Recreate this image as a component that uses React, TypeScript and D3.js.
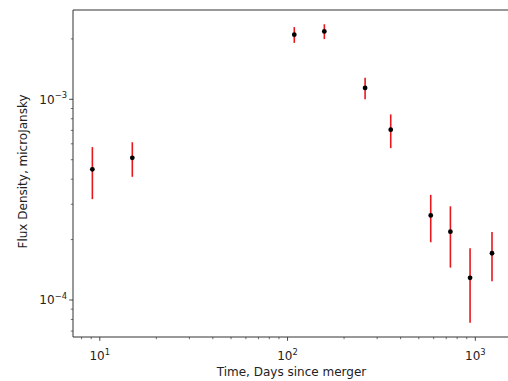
import React from "react";
import * as d3 from "d3";

// Observation epochs (days since merger) and flux densities with 1-sigma errors
const days = [9.13, 14.9, 108.6, 157, 258.8, 354.4, 578.8, 736.7, 937.5, 1227];
const flux = [4.48e-4, 5.11e-4, 2.1e-3, 2.18e-3, 1.14e-3, 7.06e-4, 2.64e-4, 2.19e-4, 1.29e-4, 1.71e-4];
const fluxErr = [1.3e-4, 1.0e-4, 1.9e-4, 1.85e-4, 1.4e-4, 1.35e-4, 7.0e-5, 7.4e-5, 5.2e-5, 4.7e-5];

const xMajor = [{ v: 10, e: "1" }, { v: 100, e: "2" }, { v: 1000, e: "3" }];
const yMajor = [{ v: 1e-3, e: "\u22123" }, { v: 1e-4, e: "\u22124" }];

const W = 508;
const H = 381;
const left = 73;
const right = 510;
const top = 10;
const bottom = 337;

export default function App() {
  const x = d3.scaleLog().domain([7.2, 1530]).range([left, right]);
  const y = d3.scaleLog().domain([6.54e-5, 2.786e-3]).range([bottom, top]);

  const [x0, x1] = x.domain();
  const xMinor: number[] = [];
  for (let dec = 1; dec <= 1000; dec *= 10) {
    for (let m = 2; m <= 9; m++) {
      const v = m * dec;
      if (v >= x0 && v <= x1) xMinor.push(v);
    }
  }
  const [y0, y1] = y.domain();
  const yMinor: number[] = [];
  for (let dec = 1e-5; dec <= 1e-3; dec *= 10) {
    for (let m = 2; m <= 9; m++) {
      const v = m * dec;
      if (v >= y0 && v <= y1) yMinor.push(v);
    }
  }

  const font = "DejaVu Sans, sans-serif";

  return (
    <svg width={W} height={H} style={{ position: "absolute", left: 0, top: 0 }} fontFamily={font}>
      <rect x={0} y={0} width={W} height={H} fill="#fff" />

      {/* error bars */}
      {days.map((d, i) => (
        <line
          key={"e" + i}
          x1={x(d)}
          x2={x(d)}
          y1={y(flux[i] + fluxErr[i])}
          y2={y(flux[i] - fluxErr[i])}
          stroke="#e8171d"
          strokeWidth={1.6}
        />
      ))}
      {/* data points */}
      {days.map((d, i) => (
        <circle key={"p" + i} cx={x(d)} cy={y(flux[i])} r={2.4} fill="#000" />
      ))}

      {/* axes frame */}
      <path
        d={`M${left},${bottom}V${top}H${right}V${bottom}Z`}
        fill="none"
        stroke="#333"
        strokeWidth={1}
      />

      {/* x ticks */}
      {xMajor.map((t) => (
        <g key={"xm" + t.v}>
          <line x1={x(t.v)} x2={x(t.v)} y1={bottom} y2={bottom + 3.8} stroke="#333" strokeWidth={0.9} />
          <text x={x(t.v)} y={360} textAnchor="middle" fontSize={12} fill="#222">
            10<tspan fontSize={8.4} dy={-5.5}>{t.e}</tspan>
          </text>
        </g>
      ))}
      {xMinor.map((v) => (
        <line key={"xn" + v} x1={x(v)} x2={x(v)} y1={bottom} y2={bottom + 2.2} stroke="#333" strokeWidth={0.7} />
      ))}

      {/* y ticks */}
      {yMajor.map((t) => (
        <g key={"ym" + t.v}>
          <line x1={left - 3.8} x2={left} y1={y(t.v)} y2={y(t.v)} stroke="#333" strokeWidth={0.9} />
          <text x={left - 6} y={y(t.v) + 4.5} textAnchor="end" fontSize={12} fill="#222">
            10<tspan fontSize={8.4} dy={-5.5}>{t.e}</tspan>
          </text>
        </g>
      ))}
      {yMinor.map((v) => (
        <line key={"yn" + v} x1={left - 2.2} x2={left} y1={y(v)} y2={y(v)} stroke="#333" strokeWidth={0.7} />
      ))}

      {/* axis labels */}
      <text x={(left + right) / 2} y={376} textAnchor="middle" fontSize={12} fill="#222">
        Time, Days since merger
      </text>
      <text
        transform={`translate(23,${(top + bottom) / 2 - 2}) rotate(-90)`}
        textAnchor="middle"
        dy={4}
        fontSize={12}
        fill="#222"
      >
        Flux Density, microJansky
      </text>
    </svg>
  );
}
